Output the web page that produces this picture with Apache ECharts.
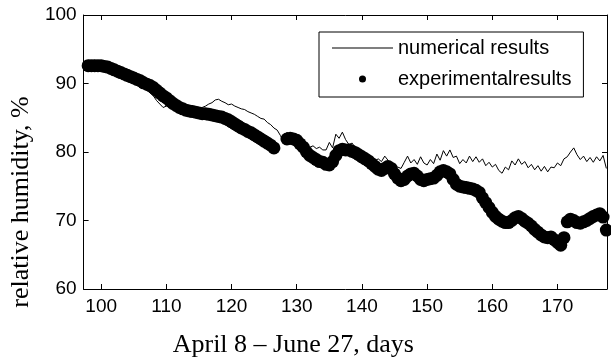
<!DOCTYPE html>
<html>
<head>
<meta charset="utf-8">
<script src="https://cdn.jsdelivr.net/npm/echarts@6/dist/echarts.min.js"></script>
<style>
  html, body { margin: 0; padding: 0; background: #fff; }
  #chart { width: 611px; height: 363px; }
</style>
</head>
<body>
<div id="chart"></div>
<script>
// day axis sampling (half-day steps)
const numStart = 97.5
const expStart = 98
const step = 0.5

// numerical results, relative humidity %
const numValues = [93.2,
  93.4, 93.1, 93.4, 93.2, 93.3, 93.0, 92.9, 92.6, 92.5, 92.1,
  92.0, 91.6, 91.4, 91.0, 90.8, 90.5, 90.1, 89.6, 89.3, 88.6,
  88.2, 87.5, 87.0, 86.5, 86.7, 86.5, 87.1, 86.9, 86.8, 86.5,
  86.3, 86.0, 86.1, 85.9, 86.2, 86.5, 86.7, 87.0, 87.2, 87.6,
  87.7, 87.4, 87.2, 86.9, 87.0, 86.7, 86.5, 86.3, 86.2, 85.9,
  85.7, 85.5, 85.2, 84.9, 84.8, 84.3, 84.0, 83.5, 83.2, 82.4,
  81.5, 82.9, 82.3, 82.5, 82.0, 81.8, 81.3, 81.0, 80.7, 80.9,
  80.5, 80.7, 80.3, 80.3, 81.4, 80.6, 82.6, 82.0, 82.9, 81.8,
  81.1, 81.3, 80.6, 80.0, 79.7, 79.4, 79.1, 79.0, 78.7, 79.0,
  78.6, 79.4, 78.8, 77.9, 77.6, 77.8, 77.6, 78.5, 79.4, 78.4,
  78.9, 78.2, 79.3, 78.4, 78.1, 78.9, 78.3, 79.7, 78.8, 80.2,
  79.4, 80.3, 79.2, 79.4, 78.3, 78.9, 78.4, 79.4, 78.6, 79.3,
  78.5, 79.0, 78.0, 78.5, 77.8, 78.2, 77.3, 76.9, 77.8, 77.4,
  78.7, 78.1, 79.0, 78.2, 78.6, 77.7, 78.2, 77.4, 78.0, 77.2,
  77.9, 77.1, 77.8, 77.7, 78.4, 78.0, 79.0, 79.3, 80.0, 80.6,
  79.6, 78.9, 79.4, 78.6, 79.2, 78.5, 79.3, 78.7, 79.5, 77.6]

// experimental results, relative humidity % (null = no measurement)
const expValues = [
  92.6, 92.6, 92.6, 92.6, 92.6, 92.5, 92.4, 92.2, 92.0, 91.8,
  91.6, 91.4, 91.2, 91.0, 90.8, 90.6, 90.4, 90.1, 89.9, 89.7,
  89.4, 89.0, 88.6, 88.2, 87.9, 87.5, 87.1, 86.8, 86.5, 86.3,
  86.1, 86.0, 85.9, 85.8, 85.7, 85.6, 85.6, 85.5, 85.4, 85.3,
  85.2, 85.1, 84.9, 84.7, 84.4, 84.1, 83.8, 83.5, 83.3, 83.0,
  82.8, 82.5, 82.2, 81.9, 81.6, 81.3, 81.0, 80.6, null, null,
  null, 81.9, 82.0, 81.9, 81.7, 81.2, 80.7, 80.0, 79.5, 79.2,
  78.9, 78.6, 78.5, 78.2, 78.1, 78.6, 79.5, 80.2, 80.4, 80.3,
  80.3, 80.1, 79.9, 79.6, 79.3, 79.0, 78.7, 78.3, 77.9, 77.5,
  77.3, 77.6, 77.9, 77.6, 76.8, 76.2, 75.8, 76.0, 76.5, 76.8,
  76.9, 76.5, 76.0, 75.8, 76.0, 76.1, 76.2, 76.6, 77.1, 77.3,
  77.1, 76.8, 76.0, 75.3, 75.0, 74.9, 74.8, 74.7, 74.6, 74.4,
  74.1, 73.3, 72.6, 71.9, 71.2, 70.6, 70.2, 69.9, 69.7, 69.7,
  70.0, 70.4, 70.6, 70.3, 69.9, 69.6, 69.2, 68.7, 68.3, 67.9,
  67.6, 67.5, 67.6, 67.2, 66.8, 66.4, 67.5, 69.8, 70.2, 70.0,
  69.7, 69.6, 69.8, 70.0, 70.3, 70.6, 70.8, 71.0, 70.5, 68.6]

const xTicks = [100, 110, 120, 130, 140, 150, 160, 170]

const numData = numValues.map((v, i) => [numStart + i * step, v])
const expData = expValues
  .map((v, i) => [expStart + i * step, v])
  .filter(p => p[1] !== null)

const sans = 'Liberation Sans, Arial, sans-serif'
const serif = 'Liberation Serif, Times New Roman, serif'
const black = '#000'

const tick = { show: true, inside: true, length: 5, lineStyle: { color: black, width: 1 } }
const line = { show: true, onZero: false, lineStyle: { color: black, width: 1 } }

const chart = echarts.init(document.getElementById('chart'))
const option = {
  animation: false,
  backgroundColor: '#fff',
  grid: { left: 77, right: 4, top: 15, bottom: 68 },
  legend: {
    orient: 'vertical',
    left: 319,
    top: 32,
    padding: [6, 12, 8, 13],
    itemGap: 11,
    itemWidth: 61,
    itemHeight: 7,
    borderColor: black,
    borderWidth: 1,
    borderRadius: 0,
    textStyle: { fontFamily: sans, fontSize: 20, color: black },
    data: [
      { name: 'numerical results', icon: 'path://M0,0L61,0L61,1L0,1Z' },
      { name: 'experimentalresults', icon: 'circle' }
    ]
  },
  xAxis: [
    {
      type: 'value',
      position: 'bottom',
      min: 97.3,
      max: 177.6,
      axisLine: line,
      axisTick: { ...tick, customValues: xTicks },
      axisLabel: { customValues: xTicks, fontFamily: sans, fontSize: 19, color: black, margin: 8 },
      splitLine: { show: false },
      name: 'April 8 – June 27, days',
      nameLocation: 'middle',
      nameGap: 43,
      nameTextStyle: { fontFamily: serif, fontSize: 26, color: black, padding: [0, 104, 0, 0] }
    },
    {
      type: 'value',
      position: 'top',
      min: 97.3,
      max: 177.6,
      axisLine: line,
      axisTick: { ...tick, customValues: xTicks },
      axisLabel: { show: false },
      splitLine: { show: false }
    }
  ],
  yAxis: [
    {
      type: 'value',
      position: 'left',
      min: 60,
      max: 100,
      interval: 10,
      axisLine: line,
      axisTick: tick,
      axisLabel: { fontFamily: sans, fontSize: 19, color: black, margin: 7 },
      splitLine: { show: false },
      name: 'relative humidity, %',
      nameLocation: 'middle',
      nameGap: 39,
      nameTextStyle: { fontFamily: serif, fontSize: 26, color: black, padding: [0, 100, 0, 0] }
    },
    {
      type: 'value',
      position: 'right',
      min: 60,
      max: 100,
      interval: 10,
      axisLine: line,
      axisTick: tick,
      axisLabel: { show: false },
      splitLine: { show: false }
    }
  ],
  series: [
    {
      name: 'experimentalresults',
      type: 'scatter',
      data: expData,
      symbol: 'circle',
      symbolSize: 13,
      itemStyle: { color: black, opacity: 1 },
      z: 2
    },
    {
      name: 'numerical results',
      type: 'line',
      data: numData,
      symbol: 'none',
      lineStyle: { color: black, width: 1 },
      itemStyle: { color: black },
      z: 3
    }
  ]
}
chart.setOption(option)
</script>
</body>
</html>
